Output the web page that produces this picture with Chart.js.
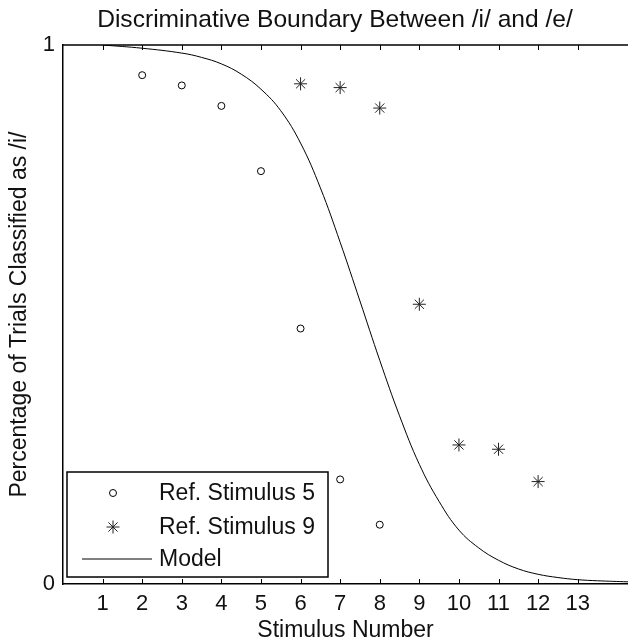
<!DOCTYPE html>
<html>
<head>
<meta charset="utf-8">
<script src="https://cdn.jsdelivr.net/npm/chart.js@4.4.0/dist/chart.umd.min.js"></script>
<style>
  html, body { margin: 0; padding: 0; background: #fff; }
</style>
</head>
<body>
<canvas id="myChart" width="628" height="644"></canvas>
<script>
// values
const stimulus5X = [2, 3, 4, 5, 6, 7, 8];
const stimulus5Y = [0.944, 0.925, 0.887, 0.766, 0.474, 0.194, 0.110];
const stimulus9X = [6, 7, 8, 9, 10, 11, 12];
const stimulus9Y = [0.928, 0.921, 0.883, 0.519, 0.258, 0.250, 0.190];
const modelX = [1, 2, 3, 3.5, 4, 4.5, 5, 5.5, 6, 6.5, 7, 7.5, 8, 8.5, 9, 9.5, 10, 10.5, 11, 11.5, 12, 12.5, 13, 13.5, 14.27];
const modelY = [1.0, 0.994, 0.985, 0.977, 0.965, 0.946, 0.918, 0.878, 0.818, 0.735, 0.634, 0.525, 0.415, 0.312, 0.222, 0.153, 0.100, 0.067, 0.044, 0.028, 0.018, 0.012, 0.008, 0.006, 0.004];
const xTicks = [1, 2, 3, 4, 5, 6, 7, 8, 9, 10, 11, 12, 13];
const yTicks = [0, 1];
const legendLabels = ['Ref. Stimulus 5', 'Ref. Stimulus 9', 'Model'];

const FONT = "'Liberation Sans', Arial, Helvetica, sans-serif";
const toPoints = (xs, ys) => xs.map((x, i) => ({ x: x, y: ys[i] }));

// frame, inward ticks, title and legend box
const decorations = {
  id: 'decorations',
  afterDraw(chart) {
    const ctx = chart.ctx;
    const area = chart.chartArea;
    const xs = chart.scales.x;
    ctx.save();
    ctx.strokeStyle = '#000';
    ctx.lineWidth = 1.5;
    ctx.beginPath();
    ctx.moveTo(area.left, area.top);
    ctx.lineTo(area.right, area.top);
    ctx.stroke();

    ctx.lineWidth = 1;
    ctx.beginPath();
    xTicks.forEach(v => {
      const px = Math.round(xs.getPixelForValue(v)) + 0.5;
      ctx.moveTo(px, area.top);
      ctx.lineTo(px, area.top + 5);
      ctx.moveTo(px, area.bottom);
      ctx.lineTo(px, area.bottom - 5);
    });
    ctx.stroke();

    ctx.fillStyle = '#111';
    ctx.font = '24.6px ' + FONT;
    ctx.textAlign = 'center';
    ctx.textBaseline = 'alphabetic';
    ctx.fillText('Discriminative Boundary Between /i/ and /e/', 335, 27);

    // legend
    const bx = 67, by = 472, bw = 261, bh = 105;
    ctx.fillStyle = '#fff';
    ctx.fillRect(bx, by, bw, bh);
    ctx.lineWidth = 1.5;
    ctx.strokeStyle = '#000';
    ctx.strokeRect(bx, by, bw, bh);

    const mx = 113;
    const rows = [493, 527, 559];
    ctx.lineWidth = 1;
    ctx.beginPath();
    ctx.arc(mx, rows[0], 3.5, 0, Math.PI * 2);
    ctx.fill();
    ctx.stroke();

    const r = 6.5, d = r * Math.SQRT1_2;
    ctx.strokeStyle = '#222';
    ctx.beginPath();
    ctx.moveTo(mx - r, rows[1]); ctx.lineTo(mx + r, rows[1]);
    ctx.moveTo(mx, rows[1] - r); ctx.lineTo(mx, rows[1] + r);
    ctx.moveTo(mx - d, rows[1] - d); ctx.lineTo(mx + d, rows[1] + d);
    ctx.moveTo(mx - d, rows[1] + d); ctx.lineTo(mx + d, rows[1] - d);
    ctx.stroke();

    ctx.strokeStyle = '#000';
    ctx.beginPath();
    ctx.moveTo(82, rows[2]);
    ctx.lineTo(152, rows[2]);
    ctx.stroke();

    ctx.fillStyle = '#111';
    ctx.font = '23px ' + FONT;
    ctx.textAlign = 'left';
    ctx.textBaseline = 'middle';
    legendLabels.forEach((t, i) => ctx.fillText(t, 159, rows[i] + 1));
    ctx.restore();
  }
};

const config = {
  type: 'scatter',
  data: {
    datasets: [
      {
        label: legendLabels[0],
        data: toPoints(stimulus5X, stimulus5Y),
        pointStyle: 'circle',
        pointRadius: 3.5,
        pointBorderWidth: 1,
        borderColor: '#000',
        backgroundColor: '#fff'
      },
      {
        label: legendLabels[1],
        data: toPoints(stimulus9X, stimulus9Y),
        pointStyle: 'star',
        pointRadius: 6.5,
        pointBorderWidth: 1,
        borderColor: '#222',
        backgroundColor: '#222'
      },
      {
        label: legendLabels[2],
        data: toPoints(modelX, modelY),
        showLine: true,
        pointRadius: 0,
        borderColor: '#000',
        borderWidth: 1,
        tension: 0.4
      }
    ]
  },
  options: {
    responsive: false,
    animation: false,
    layout: { autoPadding: false, padding: { top: 45, left: 0, right: 0, bottom: 0 } },
    plugins: {
      legend: { display: false },
      title: { display: false },
      tooltip: { enabled: false }
    },
    scales: {
      x: {
        type: 'linear',
        min: 0,
        max: 14.27,
        afterBuildTicks: s => { s.ticks = xTicks.map(v => ({ value: v })); },
        afterFit: s => { s.height = 60; s.paddingLeft = 0; s.paddingRight = 0; },
        grid: { display: false, drawTicks: false },
        border: { display: true, color: '#000', width: 1.5 },
        ticks: { color: '#111', font: { family: FONT, size: 22 }, padding: 7, maxRotation: 0, autoSkip: false },
        title: { display: true, text: 'Stimulus Number', color: '#111', font: { family: FONT, size: 23 }, padding: { top: 0, bottom: 0 } }
      },
      y: {
        min: 0,
        max: 1,
        afterBuildTicks: s => { s.ticks = yTicks.map(v => ({ value: v })); },
        afterFit: s => { s.width = 63; s.paddingTop = 0; s.paddingBottom = 0; },
        grid: { display: false, drawTicks: false },
        border: { display: true, color: '#000', width: 1.5 },
        ticks: { color: '#111', font: { family: FONT, size: 22 }, padding: 8 },
        title: { display: true, text: 'Percentage of Trials Classified as /i/', color: '#111', font: { family: FONT, size: 23 }, padding: { top: 6, bottom: 0 } }
      }
    }
  },
  plugins: [decorations]
};

new Chart(document.getElementById('myChart'), config);
</script>
</body>
</html>
